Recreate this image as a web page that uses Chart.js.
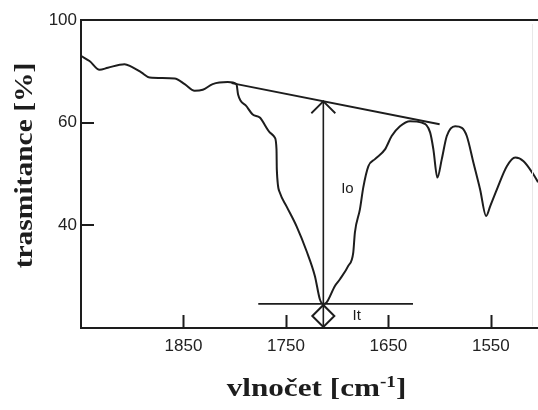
<!DOCTYPE html>
<html>
<head>
<meta charset="utf-8">
<script src="https://cdn.jsdelivr.net/npm/chart.js@4.4.1/dist/chart.umd.min.js"></script>
<style>
  html, body { margin: 0; padding: 0; background: #fff; }
  canvas { display: block; }
</style>
</head>
<body>
<canvas id="c" width="538" height="410"></canvas>
<script>
// IR spectrum around the carbonyl band: wavenumber [cm-1] vs. transmittance
const wavenumbers = [
  1950, 1941.7, 1931.9, 1923.8, 1907.5, 1900.9, 1891.2, 1883, 1858.6, 1848.8,
  1839.1, 1831.2, 1821.5, 1806.8, 1798.3, 1796.7, 1788.5, 1782.4, 1775.5, 1765.7,
  1760.9, 1759.2, 1758.9, 1756, 1749.4, 1739.6, 1729.9, 1721.7, 1716.9, 1713.6,
  1710.3, 1702.2, 1697.3, 1689.2, 1684.3, 1682.7, 1677.8, 1674.5, 1669.6, 1663.1,
  1653.3, 1646.8, 1638.7, 1628.9, 1617.4, 1609.3, 1606.1, 1602.2, 1597.9, 1593,
  1584.9, 1578.3, 1573.5, 1567, 1560.5, 1554.6, 1550.7, 1544.1, 1534.4, 1526.2,
  1518.1, 1508.4, 1504
];
const transmittance = [
  73.0, 72.0, 70.3, 70.7, 71.4, 70.9, 69.8, 68.8, 68.6, 67.5,
  66.2, 66.4, 67.5, 67.9, 67.5, 65.5, 63.2, 61.6, 61.0, 58.1,
  57.1, 54.8, 50.9, 46.4, 43.7, 39.8, 35.0, 30.1, 25.6, 24.7,
  25.0, 28.2, 29.5, 32.1, 34.7, 38.6, 43.1, 47.4, 51.5, 52.9,
  54.8, 57.4, 59.3, 60.3, 60.0, 58.1, 54.8, 49.3, 52.9, 57.4,
  59.3, 59.0, 57.4, 52.2, 47.0, 41.8, 43.7, 47.0, 51.5, 53.2,
  52.5, 49.9, 48.4
];

// Baseline tangent (I0 level) and the band minimum (It level)
const baselineWn = [1803, 1600];
const baselineT = [67.7, 59.7];
const bandWn = 1713.5;
const bandT = 24.7;
const itLineWn = [1777, 1626];

// Annotation labels
const noteTexts = ['Io', 'It'];
const noteWn = [1690, 1681];
const noteT = [47.2, 22.3];

// Axes
const xMin = 1504, xMax = 1950;
const yMin = 20, yMax = 80;
const xTickValues = [1850, 1750, 1650, 1550];
const xTickLabels = ['1850', '1750', '1650', '1550'];
const yTickValues = [40, 60, 80];
const yTickLabels = ['40', '60', '100'];

const INK = '#1d1d1d';

function baselineAt(wn) {
  const f = (wn - baselineWn[0]) / (baselineWn[1] - baselineWn[0]);
  return baselineT[0] + f * (baselineT[1] - baselineT[0]);
}

const spectrum = wavenumbers.map((w, i) => ({ x: w, y: transmittance[i] }));
const i0Top = baselineAt(bandWn);

const decorations = {
  id: 'decorations',
  afterDraw(chart) {
    const ctx = chart.ctx, a = chart.chartArea;
    const xs = chart.scales.x, ys = chart.scales.y;
    ctx.save();
    ctx.strokeStyle = INK;
    ctx.lineCap = 'butt';

    // frame: top rule and faint right edge
    ctx.lineWidth = 2;
    ctx.beginPath();
    ctx.moveTo(a.left - 1, a.top);
    ctx.lineTo(chart.width, a.top);
    ctx.stroke();
    ctx.strokeStyle = '#e8e8e8';
    ctx.lineWidth = 1;
    ctx.beginPath();
    ctx.moveTo(a.right - 5.5, a.top + 4);
    ctx.lineTo(a.right - 5.5, a.bottom - 2);
    ctx.stroke();

    // inward tick marks
    ctx.strokeStyle = INK;
    ctx.lineWidth = 2;
    ctx.beginPath();
    xTickValues.forEach(v => {
      const px = Math.round(xs.getPixelForValue(v)) + 0.5;
      ctx.moveTo(px, a.bottom);
      ctx.lineTo(px, a.bottom - 13);
    });
    yTickValues.filter(v => v < yMax).forEach(v => {
      const py = Math.round(ys.getPixelForValue(v));
      ctx.moveTo(a.left, py);
      ctx.lineTo(a.left + 13, py);
    });
    ctx.stroke();

    // open arrowhead on the I0 arrow
    const tx = xs.getPixelForValue(bandWn), ty = ys.getPixelForValue(i0Top);
    ctx.lineWidth = 1.8;
    ctx.beginPath();
    ctx.moveTo(tx - 12, ty + 12);
    ctx.lineTo(tx, ty);
    ctx.lineTo(tx + 12, ty + 12);
    ctx.stroke();

    // annotation labels
    ctx.fillStyle = INK;
    ctx.font = '15px "Liberation Sans", Arial, sans-serif';
    ctx.textAlign = 'center';
    ctx.textBaseline = 'middle';
    noteTexts.forEach((t, i) => {
      ctx.fillText(t, xs.getPixelForValue(noteWn[i]), ys.getPixelForValue(noteT[i]));
    });

    // y axis title
    ctx.save();
    ctx.font = 'bold 25px "Liberation Serif", "Times New Roman", serif';
    ctx.textAlign = 'center';
    ctx.textBaseline = 'alphabetic';
    ctx.translate(32, 165.5);
    ctx.rotate(-Math.PI / 2);
    ctx.scale(1.18, 1);
    ctx.fillText('trasmitance [%]', 0, 0);
    ctx.restore();

    // x axis title with superscript
    ctx.save();
    const mainFont = 'bold 26px "Liberation Serif", "Times New Roman", serif';
    const supFont = 'bold 16px "Liberation Serif", "Times New Roman", serif';
    const p1 = 'vlnočet [cm', p2 = '-1', p3 = ']';
    ctx.font = mainFont; const w1 = ctx.measureText(p1).width, w3 = ctx.measureText(p3).width;
    ctx.font = supFont; const w2 = ctx.measureText(p2).width;
    const sx = 1.2;
    const total = (w1 + w2 + w3) * sx;
    ctx.translate(316.5 - total / 2, 396);
    ctx.scale(sx, 1);
    ctx.textAlign = 'left';
    ctx.textBaseline = 'alphabetic';
    ctx.font = mainFont; ctx.fillText(p1, 0, 0);
    ctx.font = supFont; ctx.fillText(p2, w1, -9);
    ctx.font = mainFont; ctx.fillText(p3, w1 + w2, 0);
    ctx.restore();

    ctx.restore();
  }
};

new Chart(document.getElementById('c'), {
  type: 'scatter',
  data: {
    datasets: [
      {
        data: spectrum,
        showLine: true,
        borderColor: INK,
        borderWidth: 2,
        pointRadius: 0,
        cubicInterpolationMode: 'monotone'
      },
      {
        data: baselineWn.map((w, i) => ({ x: w, y: baselineT[i] })),
        showLine: true,
        borderColor: INK,
        borderWidth: 2,
        pointRadius: 0
      },
      {
        data: [{ x: bandWn, y: i0Top }, { x: bandWn, y: yMin }],
        showLine: true,
        borderColor: INK,
        borderWidth: 1.6,
        pointRadius: 0
      },
      {
        data: itLineWn.map(w => ({ x: w, y: bandT })),
        showLine: true,
        borderColor: INK,
        borderWidth: 1.6,
        pointRadius: 0
      },
      {
        data: [{ x: bandWn, y: (bandT + yMin) / 2 }],
        showLine: false,
        pointStyle: 'rectRot',
        pointRadius: 11,
        borderColor: INK,
        borderWidth: 2,
        backgroundColor: 'rgba(0,0,0,0)'
      }
    ]
  },
  options: {
    responsive: false,
    animation: false,
    events: [],
    layout: { autoPadding: false, padding: { top: 20, right: 0, bottom: 0, left: 0 } },
    plugins: { legend: { display: false }, tooltip: { enabled: false } },
    scales: {
      x: {
        type: 'linear',
        reverse: true,
        min: xMin,
        max: xMax,
        afterFit(s) { s.height = 82; s.paddingLeft = 0; s.paddingRight = 0; },
        afterBuildTicks(s) { s.ticks = xTickValues.map(v => ({ value: v })); },
        grid: { display: true, drawOnChartArea: false, drawTicks: false },
        border: { display: true, color: INK, width: 2 },
        ticks: {
          padding: 8,
          color: '#222',
          font: { family: '"Liberation Sans", Arial, sans-serif', size: 17 },
          maxRotation: 0,
          autoSkip: false,
          callback(v) {
            const k = xTickValues.indexOf(v);
            return k >= 0 ? xTickLabels[k] : '';
          }
        }
      },
      y: {
        type: 'linear',
        min: yMin,
        max: yMax,
        afterFit(s) { s.width = 81; s.paddingTop = 0; s.paddingBottom = 0; },
        afterBuildTicks(s) { s.ticks = yTickValues.map(v => ({ value: v })); },
        grid: { display: true, drawOnChartArea: false, drawTicks: false },
        border: { display: true, color: INK, width: 2 },
        ticks: {
          padding: 4,
          color: '#222',
          font: { family: '"Liberation Sans", Arial, sans-serif', size: 17 },
          autoSkip: false,
          callback(v) {
            const k = yTickValues.indexOf(v);
            return k >= 0 ? yTickLabels[k] : '';
          }
        }
      }
    }
  },
  plugins: [decorations]
});
</script>
</body>
</html>
